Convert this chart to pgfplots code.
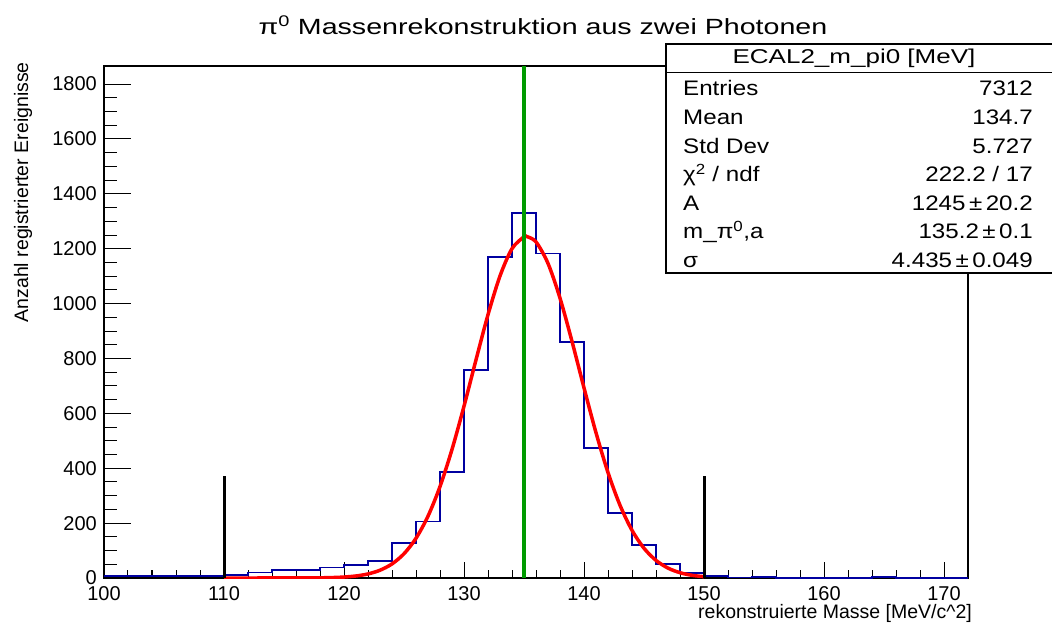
\documentclass[border=0pt]{standalone}
\usepackage{pgfplots}
\pgfplotsset{compat=1.18}
\usepackage{fontspec}
\setmainfont{Liberation Sans}
\newfontfamily\widefont[FakeStretch=1.3]{Liberation Sans}
\newfontfamily\midfont[FakeStretch=1.15]{Liberation Sans}
\definecolor{hblue}{RGB}{0,0,160}
\definecolor{fgreen}{RGB}{0,155,0}
\begin{document}
\begin{tikzpicture}
\useasboundingbox (-104pt,-47pt) rectangle (948pt,578pt);
\begin{axis}[
  at={(0,0)}, anchor=south west,
  scale only axis, width=864pt, height=512pt,
  xmin=100, xmax=172, ymin=0, ymax=1866,
  xtick={100,110,...,170}, minor x tick num=4,
  ytick={0,200,...,1800}, minor y tick num=3,
  tick pos=left, tick align=inside,
  x tick style={black, line width=1pt, /pgfplots/major tick length=16pt, /pgfplots/minor tick length=8pt},
  y tick style={black, line width=1pt, /pgfplots/major tick length=27pt, /pgfplots/minor tick length=13pt},
  axis line style={line width=1.6pt},
  /pgf/number format/assume math mode=true,
  /pgf/number format/1000 sep={},
  tick label style={font=\fontsize{20}{22}\selectfont, inner sep=0pt},
  xticklabel style={yshift=-8pt},
  yticklabel style={xshift=-7pt},
]
\addplot[const plot mark left, hblue, line width=1.8pt] coordinates {
(100,6) (102,6) (104,8) (106,8) (108,7) (110,12) (112,20) (114,28) (116,30) (118,38)
(120,47) (122,63) (124,129) (126,206) (128,386) (130,758) (132,1171) (134,1331) (136,1183) (138,860)
(140,474) (142,238) (144,119) (146,51) (148,18) (150,7) (152,2) (154,4) (156,1) (158,1)
(160,1) (162,1) (164,3) (166,1) (168,1) (170,1) (172,1)};
\addplot[red, line width=3.5pt, smooth] coordinates {
(110,0) (115,0.04) (116,0.1) (117,0.27) (118,0.67) (119,1.6) (120,3.5) (121,7.4) (122,14.8) (123,28.3)
(124,51.3) (125,88.4) (126,144.8) (127,225.4) (128,333.3) (129,468.6) (130,626.1) (131,795.1)
(132,959.6) (133,1100.8) (134,1200.3) (135,1243.7) (135.2,1245) (136,1224.9) (137,1146.5)
(138,1020.0) (139,862.4) (140,693.1) (141,529.4) (142,384.3) (143,265.2) (144,173.9)
(145,108.4) (146,64.2) (147,36.1) (148,19.3) (149,9.8) (150,4.8)};
\addplot[fgreen, line width=3.5pt] coordinates {(135,0) (135,1866)};
\addplot[black, line width=3pt] coordinates {(110,0) (110,370)};
\addplot[black, line width=3pt] coordinates {(150,0) (150,370)};
\end{axis}
% title and labels
\node[font=\widefont\fontsize{22}{24}\selectfont] at (439pt,553pt) {π\textsuperscript{0} Massenrekonstruktion aus zwei Photonen};
\node[font=\fontsize{19.5}{22}\selectfont, rotate=90, anchor=east, inner sep=0pt] at (-81pt,516pt) {Anzahl registrierter Ereignisse};
\node[font=\fontsize{19.5}{22}\selectfont, anchor=base east, inner sep=0pt] at (868pt,-40pt) {rekonstruierte Masse [MeV/c\^{}2]};
% stats box
\draw[line width=1.5pt, fill=white] (562pt,534pt) rectangle (960pt,305pt);
\draw[line width=1.5pt] (562pt,505.5pt) -- (960pt,505.5pt);
\node[font=\widefont\fontsize{20}{22}\selectfont, inner sep=0pt] at (750pt,520pt) {ECAL2\_m\_pi0 [MeV]};
\begin{scope}[every node/.style={font=\midfont\fontsize{21}{23}\selectfont, inner sep=0pt}]
\node[anchor=base west] at (579pt,482.1pt) {Entries};
\node[anchor=base east] at (929pt,482.1pt) {7312};
\node[anchor=base west] at (579pt,453.5pt) {Mean};
\node[anchor=base east] at (929pt,453.5pt) {134.7};
\node[anchor=base west] at (579pt,424.9pt) {Std Dev};
\node[anchor=base east] at (929pt,424.9pt) {5.727};
\node[anchor=base west] at (579pt,396.3pt) {χ\textsuperscript{2} / ndf};
\node[anchor=base east] at (929pt,396.3pt) {222.2 / 17};
\node[anchor=base west] at (579pt,367.7pt) {A};
\node[anchor=base east] at (929pt,367.7pt) {1245\,±\,20.2};
\node[anchor=base west] at (579pt,339.1pt) {m\_π\textsuperscript{0},a};
\node[anchor=base east] at (929pt,339.1pt) {135.2\,±\,0.1};
\node[anchor=base west] at (579pt,310.5pt) {σ};
\node[anchor=base east] at (929pt,310.5pt) {4.435\,±\,0.049};
\end{scope}
\end{tikzpicture}
\end{document}
